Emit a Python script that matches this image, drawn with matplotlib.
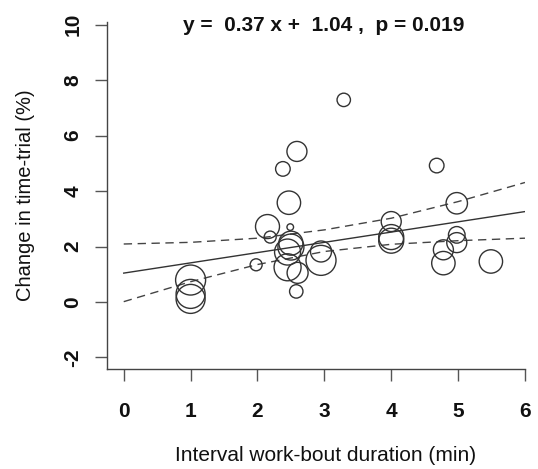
import matplotlib
matplotlib.use('Agg')
import matplotlib.pyplot as plt
import numpy as np

# interval work-bout duration (min) and change in time-trial (%)
duration = [3.29, 2.59, 2.38, 2.47, 4.68, 4.98,
            2.15, 2.19, 2.49, 2.50, 2.50, 2.45,
            2.45, 2.60, 2.58, 1.98, 2.95, 2.95,
            1.00, 1.00, 1.00, 4.00, 4.00, 4.00,
            4.98, 4.98, 4.78, 4.78, 5.49]
change = [7.29, 5.43, 4.80, 3.58, 4.92, 3.56,
          2.72, 2.34, 2.70, 2.12, 1.98, 1.80,
          1.25, 1.05, 0.38, 1.34, 1.82, 1.50,
          0.79, 0.29, 0.11, 2.90, 2.34, 2.21,
          2.42, 2.14, 1.88, 1.40, 1.46]
# relative study weight (drawn as circle size)
weight = [6.7, 10.0, 7.3, 11.7, 7.3, 10.7,
          12.0, 6.0, 3.3, 12.0, 13.0, 13.0,
          13.5, 10.5, 6.7, 6.0, 10.5, 15.0,
          15.0, 14.5, 14.5, 10.0, 12.5, 12.5,
          8.3, 10.0, 10.0, 11.7, 11.7]

# regression line and 95% confidence band
fit_x = [0, 6]
fit_y = [1.04, 3.26]
band_x = [0, 1, 2, 3, 4, 5, 6]
band_hi = [2.09, 2.15, 2.30, 2.60, 3.02, 3.62, 4.31]
band_lo = [0.01, 0.73, 1.35, 1.82, 2.08, 2.21, 2.30]

xticks = [0, 1, 2, 3, 4, 5, 6]
yticks = [-2, 0, 2, 4, 6, 8, 10]

plt.rcParams['font.family'] = ['Liberation Sans', 'DejaVu Sans']

fig = plt.figure(figsize=(5.38, 4.69), dpi=100)
ax = fig.add_axes([0.1989, 0.2132, 0.7769, 0.7399])

sizes = [(1.44 * w) ** 2 for w in weight]
ax.scatter(duration, change, s=sizes, facecolors='none',
           edgecolors='#333333', linewidths=1.0, zorder=3)

ax.plot(fit_x, fit_y, '-', color='#333333', lw=1.0)
ax.plot(band_x, band_hi, color='#444444', lw=1.0, linestyle=(0, (6, 4)))
ax.plot(band_x, band_lo, color='#444444', lw=1.0, linestyle=(0, (6, 4)))

ax.set_xlim(-0.25, 6.0)
ax.set_ylim(-2.42, 10.1)
ax.set_xticks(xticks)
ax.set_yticks(yticks)
ax.set_xticklabels([str(t) for t in xticks], fontweight='bold')
ax.set_yticklabels([str(t) for t in yticks], rotation=90, va='center',
                   fontweight='bold')

for s in ['top', 'right']:
    ax.spines[s].set_visible(False)
for s in ['left', 'bottom']:
    ax.spines[s].set_color('#444444')
    ax.spines[s].set_linewidth(1.0)

ax.tick_params(axis='both', length=8.6, width=1.0, color='#555555',
               labelsize=15, labelcolor='#111111')
ax.tick_params(axis='x', pad=15)
ax.tick_params(axis='y', pad=9)

ax.set_xlabel('Interval work-bout duration (min)', fontsize=15, color='#111111')
ax.set_ylabel('Change in time-trial (%)', fontsize=14.5, color='#111111')
ax.xaxis.set_label_coords(0.524, -0.248)
ax.yaxis.set_label_coords(-0.196, 0.5)
ax.xaxis.label.set_va('center')
ax.yaxis.label.set_va('center')

ax.text(0.519, 0.991, 'y =  0.37 x +  1.04 ,  p = 0.019', transform=ax.transAxes,
        ha='center', va='center', fontsize=15, fontweight='bold', color='#111111')

plt.savefig('out.png', dpi=100)
